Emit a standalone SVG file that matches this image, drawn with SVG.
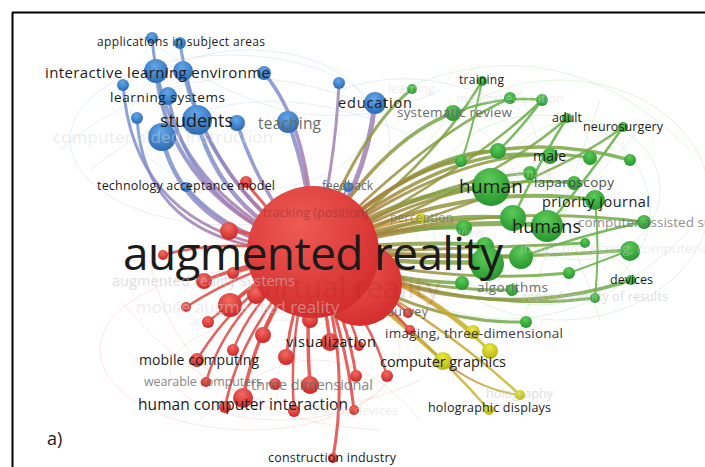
<svg xmlns="http://www.w3.org/2000/svg" width="705" height="467" viewBox="0 0 705 467">
<defs>
<radialGradient id="gB" cx="0.45" cy="0.3" r="0.75"><stop offset="0" stop-color="#62a6e8"/><stop offset="1" stop-color="#2866b2"/></radialGradient>
<radialGradient id="gR" cx="0.45" cy="0.3" r="0.75"><stop offset="0" stop-color="#f36a62"/><stop offset="1" stop-color="#c92222"/></radialGradient>
<radialGradient id="gG" cx="0.45" cy="0.3" r="0.75"><stop offset="0" stop-color="#5ccb58"/><stop offset="1" stop-color="#23922a"/></radialGradient>
<radialGradient id="gY" cx="0.45" cy="0.3" r="0.75"><stop offset="0" stop-color="#eaea40"/><stop offset="1" stop-color="#b2b010"/></radialGradient>
<radialGradient id="gM" cx="0.4" cy="0.3" r="0.8"><stop offset="0" stop-color="#ee5a55"/><stop offset="1" stop-color="#d02828"/></radialGradient>
<linearGradient id="eB" x1="1" y1="1" x2="0" y2="0"><stop offset="0" stop-color="#c2607a"/><stop offset="0.5" stop-color="#9a86bf"/><stop offset="1" stop-color="#6f95d2"/></linearGradient>
<linearGradient id="eG" x1="0" y1="0" x2="1" y2="0"><stop offset="0" stop-color="#b8743c"/><stop offset="0.5" stop-color="#94963e"/><stop offset="1" stop-color="#68b04a"/></linearGradient>
<linearGradient id="eY" x1="0" y1="0" x2="1" y2="1"><stop offset="0" stop-color="#c87a3c"/><stop offset="1" stop-color="#c8bc2c"/></linearGradient>
</defs>
<style>
text{font-family:"Open Sans","DejaVu Sans",sans-serif}
.k{fill:#1b1b1b}
.g{fill:#6a6a6a}
.f{fill:#c4c4c4;opacity:.55}
.ff{fill:#d8d8d8;opacity:.45}
.eb{fill:none;stroke:url(#eB);stroke-opacity:.85;stroke-linecap:round}
.eg{fill:none;stroke:url(#eG);stroke-opacity:.85;stroke-linecap:round}
.ey{fill:none;stroke:url(#eY);stroke-opacity:.85;stroke-linecap:round}
.er{fill:none;stroke:#e2504a;stroke-opacity:.9;stroke-linecap:round}
.eG2{fill:none;stroke:#6cb450;stroke-opacity:.9;stroke-linecap:round}
.wb{fill:none;stroke:#8fb2e0;stroke-opacity:.22;stroke-width:1}
.wg{fill:none;stroke:#8fd08a;stroke-opacity:.25;stroke-width:1}
.wr{fill:none;stroke:#eea0a0;stroke-opacity:.25;stroke-width:1}
.B{fill:url(#gB)}.R{fill:url(#gR)}.G{fill:url(#gG)}.Y{fill:url(#gY)}
</style>
<rect width="705" height="467" fill="#ffffff"/>
<g id="background-web">
<ellipse class="wb" cx="230" cy="140" rx="160" ry="85"/>
<ellipse class="wb" cx="250" cy="120" rx="120" ry="70"/>
<path class="wb" d="M60,150 Q200,30 380,110"/>
<path class="wb" d="M90,170 Q240,50 420,140"/>
<path class="wb" d="M150,40 Q300,160 440,90"/>
<path class="wb" d="M340,90 Q420,60 520,110"/>
<ellipse class="wg" cx="560" cy="200" rx="150" ry="120"/>
<ellipse class="wg" cx="540" cy="210" rx="110" ry="95"/>
<ellipse class="wg" cx="580" cy="190" rx="80" ry="70"/>
<path class="wg" d="M400,90 Q560,20 690,150"/>
<path class="wg" d="M420,300 Q560,360 690,230"/>
<path class="wg" d="M460,110 L640,280 M480,300 L640,130 M520,90 L600,320 M600,100 L520,330"/>
<ellipse class="wr" cx="250" cy="350" rx="150" ry="80"/>
<ellipse class="wr" cx="280" cy="370" rx="110" ry="50"/>
<path class="wr" d="M120,300 Q250,460 420,380"/>
<path class="wr" d="M150,260 Q180,420 380,430"/>
<path class="wr" d="M200,420 Q320,300 420,420"/>
</g>
<g id="connectors">
<path class="eb" stroke-width="3" d="M313,252 Q165,190 152,38"/>
<path class="eb" stroke-width="3" d="M313,252 Q200,180 180,43"/>
<path class="eb" stroke-width="4" d="M313,252 Q170,200 156,71"/>
<path class="eb" stroke-width="4" d="M313,252 Q215,190 183,71"/>
<path class="eb" stroke-width="3.5" d="M313,252 Q312,130 264,73"/>
<path class="eb" stroke-width="3" d="M313,252 Q135,240 123,85"/>
<path class="eb" stroke-width="3.5" d="M313,252 Q190,210 168,96"/>
<path class="eb" stroke-width="3" d="M313,252 Q145,250 137,118"/>
<path class="eb" stroke-width="4.5" d="M313,252 Q220,210 197,120"/>
<path class="eb" stroke-width="4.5" d="M313,252 Q185,235 162,137"/>
<path class="eb" stroke-width="3.5" d="M313,252 Q262,200 237,123"/>
<path class="eb" stroke-width="4" d="M313,252 Q310,180 288,122"/>
<path class="eb" stroke-width="3" d="M313,252 Q232,240 186,187"/>
<path class="eb" stroke-width="3" d="M313,252 Q335,170 339,83"/>
<path class="eb" stroke-width="5" d="M313,252 Q365,190 375,103"/>
<path class="eb" stroke-width="2.5" d="M313,252 Q330,220 348,187"/>
<path class="eg" stroke-width="3" d="M313,252 Q360,130 412,89"/>
<path class="eg" stroke-width="3.5" d="M313,252 Q380,140 453,113"/>
<path class="eg" stroke-width="2.5" d="M313,252 Q430,170 482,81"/>
<path class="eg" stroke-width="2.5" d="M313,252 Q420,140 510,98"/>
<path class="eg" stroke-width="2.5" d="M313,252 Q470,170 542,100"/>
<path class="eg" stroke-width="2.5" d="M313,252 Q500,180 567,118"/>
<path class="eg" stroke-width="2.5" d="M313,252 Q540,190 623,127"/>
<path class="eg" stroke-width="3.5" d="M313,252 Q420,150 498,151"/>
<path class="eg" stroke-width="3" d="M313,252 Q400,170 461,161"/>
<path class="eg" stroke-width="3.5" d="M313,252 Q450,140 550,156"/>
<path class="eg" stroke-width="3.5" d="M313,252 Q450,110 630,160"/>
<path class="eg" stroke-width="3" d="M313,252 Q470,135 590,158"/>
<path class="eg" stroke-width="3" d="M313,252 Q430,180 530,173"/>
<path class="eg" stroke-width="5" d="M313,252 Q400,190 491,187"/>
<path class="eg" stroke-width="3" d="M313,252 Q460,170 574,183"/>
<path class="eg" stroke-width="4" d="M313,252 Q460,180 595,200"/>
<path class="eg" stroke-width="4" d="M313,252 Q420,210 513,218"/>
<path class="eg" stroke-width="5" d="M313,252 Q440,215 547,226"/>
<path class="eg" stroke-width="3.5" d="M313,252 Q390,225 464,228"/>
<path class="eg" stroke-width="3" d="M313,252 Q480,200 644,222"/>
<path class="eg" stroke-width="4" d="M313,252 Q400,240 485,245"/>
<path class="eg" stroke-width="4" d="M313,252 Q420,255 521,257"/>
<path class="eg" stroke-width="4.5" d="M313,252 Q400,265 487,262"/>
<path class="eg" stroke-width="3" d="M313,252 Q450,250 585,243"/>
<path class="eg" stroke-width="3.5" d="M313,252 Q480,262 630,250"/>
<path class="eg" stroke-width="3" d="M313,252 Q450,285 569,273"/>
<path class="eg" stroke-width="3.5" d="M313,252 Q390,282 462,283"/>
<path class="eg" stroke-width="3" d="M313,252 Q410,292 512,290"/>
<path class="eg" stroke-width="3.5" d="M313,252 Q480,330 631,280"/>
<path class="eg" stroke-width="3" d="M313,252 Q460,315 595,298"/>
<path class="eg" stroke-width="3" d="M313,252 Q420,325 526,322"/>
<path class="eG2" stroke-width="2.5" d="M567,118 Q540,160 513,218"/>
<path class="eG2" stroke-width="2.5" d="M623,127 Q590,175 547,226"/>
<path class="eG2" stroke-width="2.5" d="M542,100 Q520,130 498,151"/>
<path class="eG2" stroke-width="2.5" d="M453,113 Q500,95 542,100"/>
<path class="eG2" stroke-width="2.5" d="M644,222 Q580,235 521,257"/>
<path class="eG2" stroke-width="2" d="M630,250 Q600,262 569,273"/>
<path class="eG2" stroke-width="2" d="M595,200 Q600,250 595,298"/>
<path class="eG2" stroke-width="2" d="M482,81 Q470,140 461,161"/>
<path class="ey" stroke-width="2.5" d="M313,252 Q370,225 421,218"/>
<path class="ey" stroke-width="3" d="M313,252 Q400,270 473,332"/>
<path class="ey" stroke-width="3" d="M313,252 Q420,280 490,351"/>
<path class="ey" stroke-width="3.5" d="M313,252 Q375,300 443,361"/>
<path class="ey" stroke-width="2.5" d="M313,252 Q440,320 520,395"/>
<path class="ey" stroke-width="2.5" d="M313,252 Q410,320 489,410"/>
<path class="ey" stroke-width="2" d="M443,361 Q480,390 520,395"/>
<path class="er" stroke-width="3" d="M313,252 Q270,215 246,182"/>
<path class="er" stroke-width="3.5" d="M313,252 Q270,236 229,230"/>
<path class="er" stroke-width="2.5" d="M313,252 Q220,238 163,255"/>
<path class="er" stroke-width="3.5" d="M313,252 Q250,262 204,281"/>
<path class="er" stroke-width="3" d="M313,252 Q270,262 233,273"/>
<path class="er" stroke-width="2.5" d="M313,252 Q240,272 186,307"/>
<path class="er" stroke-width="4" d="M313,252 Q262,275 230,305"/>
<path class="er" stroke-width="3.5" d="M313,252 Q280,270 256,295"/>
<path class="er" stroke-width="2.5" d="M313,252 Q250,285 208,322"/>
<path class="er" stroke-width="3" d="M313,252 Q280,295 263,335"/>
<path class="er" stroke-width="3" d="M313,252 Q312,290 310,320"/>
<path class="er" stroke-width="3.5" d="M313,252 Q325,300 330,342"/>
<path class="er" stroke-width="2.5" d="M313,252 Q255,295 233,350"/>
<path class="er" stroke-width="2.5" d="M313,252 Q235,295 197,360"/>
<path class="er" stroke-width="3" d="M313,252 Q292,305 286,357"/>
<path class="er" stroke-width="2.5" d="M313,252 Q228,305 206,382"/>
<path class="er" stroke-width="3.5" d="M313,252 Q258,318 243,398"/>
<path class="er" stroke-width="2.5" d="M313,252 Q240,330 225,407"/>
<path class="er" stroke-width="3.5" d="M313,252 Q305,320 310,385"/>
<path class="er" stroke-width="2.5" d="M313,252 Q345,300 359,346"/>
<path class="er" stroke-width="3" d="M313,252 Q348,318 356,376"/>
<path class="er" stroke-width="2.5" d="M313,252 Q288,330 294,411"/>
<path class="er" stroke-width="3" d="M313,252 Q345,330 354,410"/>
<path class="er" stroke-width="2.5" d="M313,252 Q372,318 387,376"/>
<path class="er" stroke-width="2.5" d="M313,252 Q370,280 408,313"/>
<path class="er" stroke-width="2.5" d="M313,252 Q375,290 410,330"/>
<path class="er" stroke-width="3" d="M313,252 Q352,350 333,458"/>
</g>
<g id="nodes-blue">
<g id="n-applications"><circle class="B" cx="152" cy="38" r="6"/><circle class="B" cx="180" cy="43" r="6"/></g>
<g id="n-interactive"><circle class="B" cx="156" cy="71" r="12"/><circle class="B" cx="183" cy="71" r="10"/><circle class="B" cx="264" cy="73" r="7"/></g>
<g id="n-b1"><circle class="B" cx="123" cy="85" r="6"/></g>
<g id="n-learning-systems"><circle class="B" cx="168" cy="96" r="9"/></g>
<g id="n-b2"><circle class="B" cx="137" cy="118" r="6"/></g>
<g id="n-students"><circle class="B" cx="197" cy="120" r="15"/></g>
<g id="n-computer-aided"><circle class="B" cx="162" cy="137" r="14"/></g>
<g id="n-b3"><circle class="B" cx="237" cy="123" r="8"/></g>
<g id="n-teaching"><circle class="B" cx="288" cy="122" r="11"/></g>
<g id="n-tam"><circle class="B" cx="186" cy="187" r="5"/></g>
<g id="n-b4"><circle class="B" cx="339" cy="83" r="6"/></g>
<g id="n-education"><circle class="B" cx="375" cy="103" r="11"/></g>
<g id="n-feedback"><circle class="B" cx="348" cy="187" r="5"/></g>
</g>
<g id="nodes-red">
<circle class="R" cx="246" cy="182" r="6"/>
<circle class="R" cx="229" cy="231" r="9"/>
<circle class="R" cx="163" cy="255" r="5"/>
<circle class="R" cx="204" cy="281" r="8"/>
<circle class="R" cx="233" cy="273" r="6"/>
<circle class="R" cx="186" cy="307" r="5"/>
<circle class="R" cx="230" cy="305" r="12"/>
<circle class="R" cx="256" cy="295" r="9"/>
<circle class="R" cx="208" cy="322" r="6"/>
<circle class="R" cx="263" cy="335" r="8"/>
<circle class="R" cx="310" cy="320" r="8"/>
<circle class="R" cx="330" cy="342" r="9"/>
<circle class="R" cx="233" cy="350" r="6"/>
<circle class="R" cx="197" cy="360" r="7"/>
<circle class="R" cx="286" cy="357" r="8"/>
<circle class="R" cx="206" cy="382" r="5"/>
<circle class="R" cx="243" cy="398" r="10"/>
<circle class="R" cx="225" cy="407" r="6"/>
<circle class="R" cx="275" cy="384" r="6"/>
<circle class="R" cx="310" cy="385" r="9"/>
<circle class="R" cx="359" cy="346" r="5"/>
<circle class="R" cx="356" cy="376" r="6"/>
<circle class="R" cx="294" cy="411" r="6"/>
<circle class="R" cx="354" cy="410" r="5"/>
<circle class="R" cx="387" cy="376" r="6"/>
<circle class="R" cx="408" cy="313" r="5"/>
<circle class="R" cx="410" cy="330" r="5"/>
<circle class="R" cx="333" cy="458" r="5"/>
</g>
<g id="nodes-green">
<circle class="G" cx="412" cy="89" r="5"/>
<circle class="G" cx="482" cy="81" r="5"/>
<circle class="G" cx="510" cy="98" r="6"/>
<circle class="G" cx="542" cy="100" r="6"/>
<circle class="G" cx="567" cy="118" r="5"/>
<circle class="G" cx="453" cy="113" r="8"/>
<circle class="G" cx="623" cy="127" r="5"/>
<circle class="G" cx="498" cy="151" r="8"/>
<circle class="G" cx="461" cy="161" r="6"/>
<circle class="G" cx="550" cy="156" r="8"/>
<circle class="G" cx="590" cy="158" r="7"/>
<circle class="G" cx="630" cy="160" r="6"/>
<circle class="G" cx="530" cy="173" r="7"/>
<circle class="G" cx="491" cy="187" r="19"/>
<circle class="G" cx="574" cy="183" r="7"/>
<circle class="G" cx="595" cy="200" r="10"/>
<circle class="G" cx="513" cy="218" r="13"/>
<circle class="G" cx="547" cy="226" r="16"/>
<circle class="G" cx="464" cy="228" r="8"/>
<circle class="G" cx="644" cy="222" r="7"/>
<circle class="G" cx="485" cy="246" r="9"/>
<circle class="G" cx="521" cy="257" r="12"/>
<circle class="G" cx="487" cy="264" r="17"/>
<circle class="G" cx="585" cy="243" r="5"/>
<circle class="G" cx="630" cy="251" r="10"/>
<circle class="G" cx="569" cy="273" r="6"/>
<circle class="G" cx="462" cy="283" r="7"/>
<circle class="G" cx="512" cy="290" r="6"/>
<circle class="G" cx="631" cy="280" r="5"/>
<circle class="G" cx="595" cy="298" r="5"/>
<circle class="G" cx="526" cy="322" r="6"/>
</g>
<g id="nodes-yellow">
<circle class="Y" cx="421" cy="218" r="5"/>
<circle class="Y" cx="473" cy="332" r="7"/>
<circle class="Y" cx="490" cy="351" r="8"/>
<circle class="Y" cx="443" cy="361" r="9"/>
<circle class="Y" cx="520" cy="395" r="5"/>
<circle class="Y" cx="489" cy="410" r="5"/>
</g>
<g id="n-augmented-reality">
<circle cx="360" cy="284" r="42" fill="url(#gM)"/>
<circle cx="313" cy="252" r="66" fill="url(#gM)"/>
</g>
<g id="labels">
<text class="ff" x="53" y="143" font-size="17" textLength="220">computer aided instruction</text>
<text class="k" x="97" y="46" font-size="12" textLength="168">applications in subject areas</text>
<text class="k" x="45" y="78" font-size="15" textLength="225">interactive learning environme</text>
<text class="k" x="110" y="102" font-size="13.5" textLength="115">learning systems</text>
<text class="k" x="160" y="127" font-size="18" textLength="73">students</text>
<text class="g" x="258" y="129" font-size="15.5" textLength="63">teaching</text>
<text class="k" x="97" y="190" font-size="12.5" textLength="178">technology acceptance model</text>
<text class="g" x="322" y="190" font-size="12" textLength="51">feedback</text>
<text x="263" y="217" font-size="12.5" textLength="105" fill="#7a3030" opacity=".45">tracking (position)</text>
<text class="k" x="338" y="108" font-size="14.5" textLength="74">education</text>
<text class="ff" x="388" y="93" font-size="12.5" textLength="47">learning</text>
<text class="ff" x="456" y="103" font-size="12.5" textLength="108">medical education</text>
<text class="g" x="397" y="117" font-size="13.5" textLength="115">systematic review</text>
<text class="k" x="459" y="84" font-size="12" textLength="45">training</text>
<text class="k" x="552" y="122" font-size="12.5" textLength="30">adult</text>
<text class="k" x="583" y="131" font-size="12.5" textLength="80">neurosurgery</text>
<text class="k" x="533" y="161" font-size="14" textLength="33">male</text>
<text class="ff" x="510" y="178" font-size="12.5" textLength="42">female</text>
<text class="k" x="459" y="193" font-size="19" textLength="64">human</text>
<text x="534" y="187" font-size="13.5" textLength="80" fill="#4a4a4a">laparoscopy</text>
<text class="k" x="542" y="207" font-size="14.5" textLength="108">priority journal</text>
<text class="k" x="512" y="233" font-size="18" textLength="69">humans</text>
<text class="g" x="578" y="227" font-size="13.5" opacity=".75">computer assisted surgery</text>
<text class="ff" x="520" y="253" font-size="13.5">image processing, computer-assisted</text>
<text class="g" x="390" y="222" font-size="12" textLength="63" opacity=".6">perception</text>
<text class="ff" x="458" y="237" font-size="12.5">view</text>
<text x="258" y="298" font-size="30" fill="#9a1818" opacity=".14">virtual reality</text>
<text class="k" x="123" y="270" font-size="46" textLength="380">augmented reality</text>
<text class="g" x="477" y="292" font-size="13.5" textLength="71">algorithms</text>
<text class="k" x="610" y="284" font-size="12.5" textLength="43">devices</text>
<text class="f" x="522" y="301" font-size="12.5" textLength="146">reproducibility of results</text>
<text class="g" x="388" y="316" font-size="12.5" textLength="40">survey</text>
<text x="385" y="338" font-size="13.5" textLength="178" fill="#3a3a3a">imaging, three-dimensional</text>
<text class="k" x="380" y="367" font-size="14.5" textLength="126">computer graphics</text>
<text class="f" x="486" y="398" font-size="12.5" textLength="67">holography</text>
<text class="k" x="428" y="412" font-size="12.5" textLength="123">holographic displays</text>
<text class="k" x="286" y="347" font-size="14.5" textLength="90">visualization</text>
<text class="f" x="112" y="286" font-size="14.5" textLength="183">augmented reality systems</text>
<text class="ff" x="136" y="313" font-size="17">mobile augmented reality</text>
<text class="ff" x="190" y="325" font-size="11">ar</text>
<text class="k" x="139" y="365" font-size="14" textLength="120">mobile computing</text>
<text class="g" x="144" y="386" font-size="12.5" textLength="118" opacity=".8">wearable computers</text>
<text class="g" x="251" y="390" font-size="14.5" textLength="122" opacity=".8">three dimensional</text>
<text class="k" x="138" y="410" font-size="15.5" textLength="210">human computer interaction</text>
<text class="ff" x="310" y="415" font-size="12.5" textLength="88">display devices</text>
<text class="k" x="268" y="462" font-size="12.5" textLength="128">construction industry</text>
<text class="k" x="47" y="445" font-size="18">a)</text>
</g>
<g id="frame">
<path d="M12,12.5 H705 M12.5,12 V467" fill="none" stroke="#000" stroke-width="2"/>
</g>
</svg>
